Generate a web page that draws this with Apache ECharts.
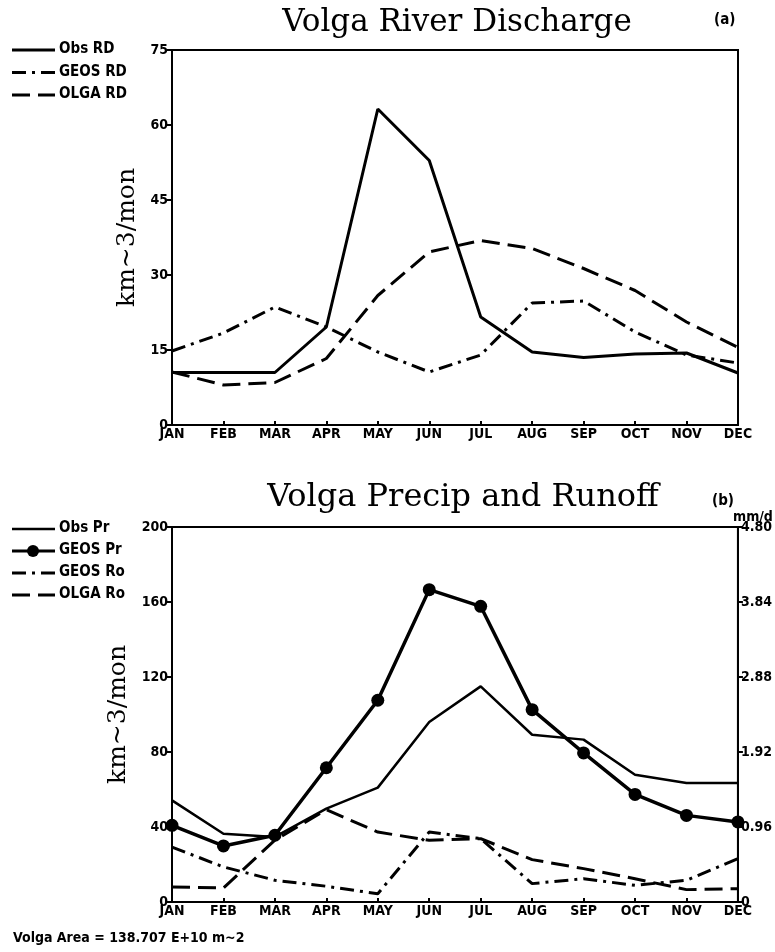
<!DOCTYPE html>
<html><head><meta charset="utf-8">
<script src="https://cdn.jsdelivr.net/npm/echarts@6/dist/echarts.min.js"></script>
<style>html,body{margin:0;padding:0;background:#fff}#c{width:775px;height:952px}</style>
</head><body><div id="c"></div>
<script>
const months = ['JAN','FEB','MAR','APR','MAY','JUN','JUL','AUG','SEP','OCT','NOV','DEC'];
const ticksA = [0,15,30,45,60,75];
const ticksB = [0,40,80,120,160,200];
const ticksR = [0,0.96,1.92,2.88,3.84,4.80];
const obsRD  = [10.5,10.5,10.5,19.6,63.2,52.9,21.6,14.6,13.5,14.2,14.4,10.4];
const geosRD = [14.8,18.4,23.6,19.6,14.6,10.6,14.0,24.4,24.8,18.6,14.0,12.4];
const olgaRD = [10.6,8.0,8.5,13.3,25.9,34.6,36.9,35.3,31.3,26.9,20.6,15.5];
const obsPr  = [54.2,36.4,34.7,49.8,61.0,96.0,115.0,89.2,86.6,67.9,63.5,63.5];
const geosPr = [40.9,29.9,35.6,71.6,107.6,166.6,157.7,102.6,79.5,57.4,46.2,42.7];
const geosRo = [29.3,18.7,11.6,8.4,4.4,37.3,33.8,9.8,12.4,8.9,11.6,23.1];
const olgaRo = [8.0,7.5,33.0,49.2,37.3,32.9,33.8,22.6,17.8,12.4,6.6,7.1];
const legendA = ['Obs RD','GEOS RD','OLGA RD'];
const legendB = ['Obs Pr','GEOS Pr','GEOS Ro','OLGA Ro'];

const LF = '"Liberation Sans Narrow", "DejaVu Sans Condensed", "Liberation Sans"';
const TF = '"DejaVu Serif"';
const DASH = [18,8];
const DASHDOT = [14,6,3,6];
const lbl = {color:'#000', fontFamily:LF, fontWeight:'bold', fontSize:14};
const axLine = {show:true, lineStyle:{color:'#000', width:2}};

function xAx(gi){
  return {type:'category', gridIndex:gi, data:months, boundaryGap:false,
    axisLine:axLine, axisTick:{show:true, inside:true, length:4, lineStyle:{color:'#000',width:2}},
    axisLabel:{...lbl, margin:2, interval:0}, splitLine:{show:false}};
}
function yAx(gi, ticks, name){
  return {type:'value', gridIndex:gi, min:ticks[0], max:ticks[ticks.length-1], interval:ticks[1]-ticks[0],
    axisLine:axLine, axisTick:{show:true, length:5, lineStyle:{color:'#000',width:2}},
    axisLabel:{...lbl, margin:4}, splitLine:{show:false},
    name:name, nameLocation:'middle', nameGap:32, nameRotate:90,
    nameTextStyle:{color:'#000', fontFamily:TF, fontSize:25}};
}
function line(name, data, xi, yi, width, type, sym){
  return {name, type:'line', xAxisIndex:xi, yAxisIndex:yi, data,
    symbol: sym ? 'circle' : 'none', symbolSize: sym ? 13 : 0, showSymbol: !!sym,
    itemStyle:{color:'#000'},
    lineStyle:{color:'#000', width, type}, animation:false};
}
const styles = {'Obs RD':[3,null,false],'GEOS RD':[3,DASHDOT,false],'OLGA RD':[3,DASH,false],
  'Obs Pr':[2.5,null,false],'GEOS Pr':[3,null,true],'GEOS Ro':[3,DASHDOT,false],'OLGA Ro':[3,DASH,false]};
function legendGraphics(names, y0, step){
  const out = [];
  names.forEach((n,i)=>{
    const y = y0 + i*step; const s = styles[n];
    out.push({type:'line', shape:{x1:12,y1:y,x2:55,y2:y}, style:{stroke:'#000', lineWidth:s[0], lineDash:s[1]}});
    if (s[2]) out.push({type:'circle', shape:{cx:33, cy:y, r:6}, style:{fill:'#000'}});
    out.push({type:'text', left:59, top:y-8, style:{text:n, font:'bold 15px '+LF, fill:'#000'}});
  });
  return out;
}
function titleText(t, x, y, size){
  return {type:'text', x:x, y:y, style:{text:t, font:size+'px '+TF, fill:'#000', textAlign:'center', textVerticalAlign:'top'}};
}

const chart = echarts.init(document.getElementById('c'), null, {renderer:'canvas'});
chart.setOption({
  backgroundColor:'#fff',
  animation:false,
  title:[
    {text:'(a)', left:709, top:8, textStyle:{fontFamily:LF, fontSize:15, fontWeight:'bold', color:'#000'}},
    {text:'(b)', left:707, top:489, textStyle:{fontFamily:LF, fontSize:15, fontWeight:'bold', color:'#000'}},
    {text:'mm/d', left:728, top:505, textStyle:{fontFamily:LF, fontSize:14, fontWeight:'bold', color:'#000'}},
    {text:'Volga Area = 138.707 E+10 m~2', left:8, top:926, textStyle:{fontFamily:LF, fontSize:14, fontWeight:'bold', color:'#000'}}
  ],
  graphic: [titleText('Volga River Discharge', 457, 7, 31), titleText('Volga Precip and Runoff', 463, 482, 32),
    ...legendGraphics(legendA, 50, 22.5), ...legendGraphics(legendB, 529, 22)],
  grid:[
    {left:172, right:37, top:50, height:375, show:true, borderColor:'#000', borderWidth:2, backgroundColor:'transparent'},
    {left:172, right:37, top:527, height:375, show:true, borderColor:'#000', borderWidth:2, backgroundColor:'transparent'}
  ],
  xAxis:[xAx(0), xAx(1)],
  yAxis:[
    yAx(0, ticksA, 'km~3/mon'),
    yAx(1, ticksB, 'km~3/mon'),
    {type:'value', gridIndex:1, position:'right', min:ticksR[0], max:ticksR[ticksR.length-1], interval:ticksR[1]-ticksR[0],
      axisLine:axLine, axisTick:{show:true, length:5, lineStyle:{color:'#000',width:2}},
      axisLabel:{...lbl, margin:3, formatter:v => v===0 ? '0' : v.toFixed(2)}, splitLine:{show:false}}
  ],
  series:[
    line('Obs RD', obsRD, 0, 0, 3, 'solid', false),
    line('GEOS RD', geosRD, 0, 0, 3, DASHDOT, false),
    line('OLGA RD', olgaRD, 0, 0, 3, DASH, false),
    line('Obs Pr', obsPr, 1, 1, 2.5, 'solid', false),
    line('GEOS Pr', geosPr, 1, 1, 3.5, 'solid', true),
    line('GEOS Ro', geosRo, 1, 1, 3, DASHDOT, false),
    line('OLGA Ro', olgaRo, 1, 1, 3, DASH, false)
  ]
});
</script></body></html>
